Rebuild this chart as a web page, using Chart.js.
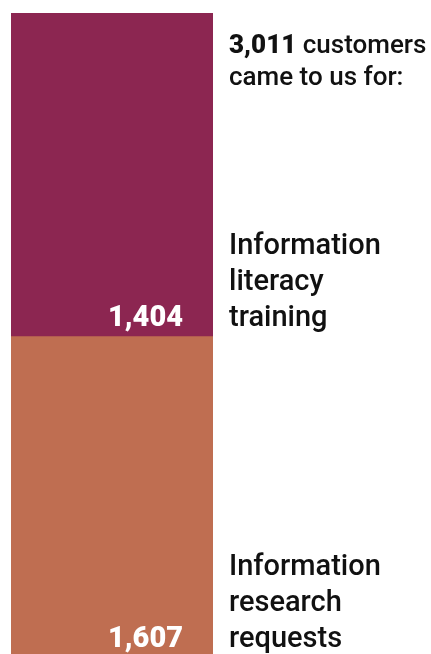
<!DOCTYPE html>
<html>
<head>
<meta charset="utf-8">
<script src="https://cdn.jsdelivr.net/npm/chart.js@4"></script>
<style>
  html, body { margin: 0; padding: 0; background: #fff; overflow: hidden; }
  #wrap { width: 431px; height: 654px; position: relative; }
</style>
</head>
<body>
<div id="wrap"><canvas id="myChart"></canvas></div>
<script>
let categories = ["Customers"];
let seriesNames = [
  ["Information", "research", "requests"],
  ["Information", "literacy", "training"],
];
let researchRequests = [1607];
let literacyTraining = [1404];
let colors = ["#BF6E51", "#8C2651"];

let total = researchRequests[0] + literacyTraining[0];
let fmt = function (n) { return n.toLocaleString("en-US"); };

// draws the numbers inside the bar and the text beside it
let labelPlugin = {
  id: "labels",
  afterDatasetsDraw: function (chart) {
    let ctx = chart.ctx;
    let area = chart.chartArea;
    ctx.save();
    chart.data.datasets.forEach(function (ds, i) {
      let bar = chart.getDatasetMeta(i).data[0];
      let clipped = bar.base > area.bottom;
      let baseline = clipped ? area.bottom - 7 : bar.base - 11;
      let right = bar.x + bar.width / 2;
      ctx.fillStyle = "#fff";
      ctx.font = "900 29px Roboto";
      ctx.textAlign = "right";
      ctx.textBaseline = "alphabetic";
      ctx.fillText(fmt(ds.data[0]), right - 30, baseline);

      ctx.fillStyle = "#111";
      ctx.font = "500 29px Roboto";
      ctx.textAlign = "left";
      let lines = seriesNames[i];
      for (let k = 0; k < lines.length; k++) {
        let y = baseline - (lines.length - 1 - k) * 36;
        ctx.fillText(lines[k], right + 16, y);
      }
    });

    let top = chart.getDatasetMeta(1).data[0];
    let x0 = top.x + top.width / 2 + 16;
    ctx.fillStyle = "#111";
    ctx.textAlign = "left";
    ctx.font = "900 26px Roboto";
    let totalText = fmt(total);
    ctx.fillText(totalText, x0, 53);
    let w = ctx.measureText(totalText).width;
    ctx.font = "500 26px Roboto";
    ctx.fillText(" customers", x0 + w, 53);
    ctx.fillText("came to us for:", x0, 85);
    ctx.restore();
  },
};

let ctx = document.getElementById("myChart").getContext("2d");
let chart = new Chart(ctx, {
  type: "bar",
  data: {
    labels: categories,
    datasets: [
      { data: researchRequests, backgroundColor: colors[0], borderWidth: 0 },
      { data: literacyTraining, backgroundColor: colors[1], borderWidth: 0 },
    ],
  },
  options: {
    responsive: true,
    maintainAspectRatio: false,
    animation: false,
    layout: { padding: { left: 11, right: 218, top: 13, bottom: 0 } },
    datasets: { bar: { barPercentage: 1, categoryPercentage: 1 } },
    plugins: {
      legend: { display: false },
      tooltip: { enabled: false },
    },
    scales: {
      x: { stacked: true, display: false },
      y: { stacked: true, display: false, min: 230, max: total },
    },
  },
  plugins: [labelPlugin],
});
</script>
</body>
</html>
